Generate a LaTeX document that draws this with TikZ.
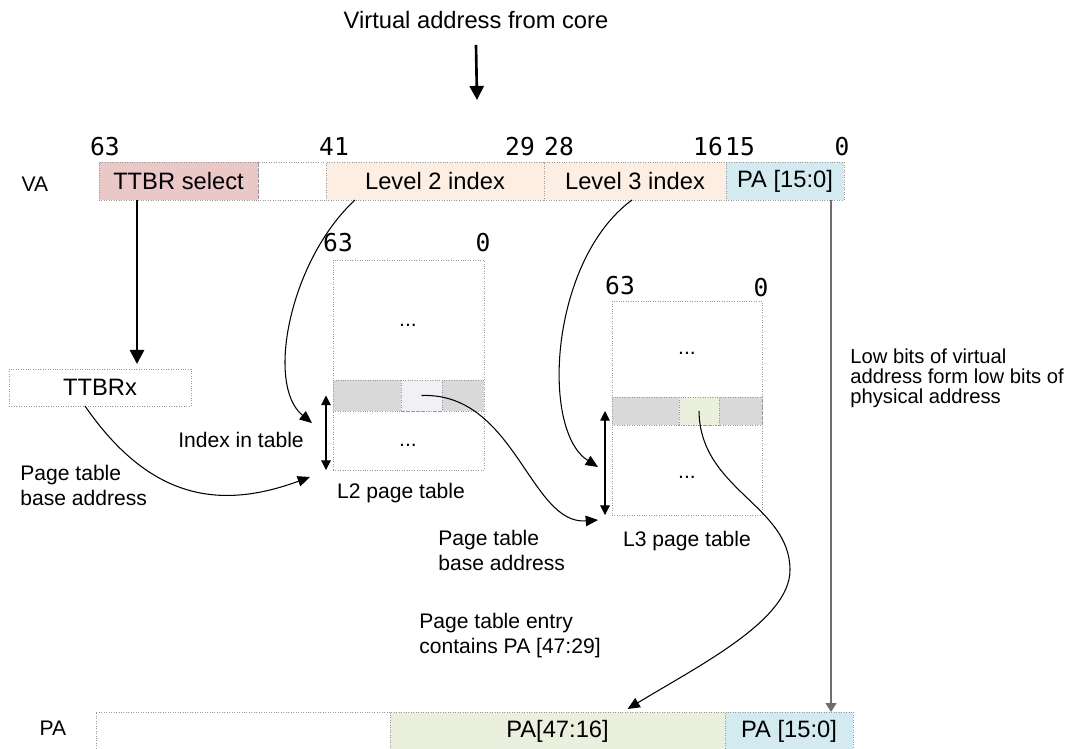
\documentclass[tikz,border=0pt]{standalone}
\usepackage{fontspec}
\setmainfont{Liberation Sans}
\newfontfamily\bitfont{DejaVu Sans Mono}
\usetikzlibrary{positioning, arrows.meta}

\definecolor{ttbrred}{RGB}{235,200,200}
\definecolor{idxpeach}{RGB}{252,238,227}
\definecolor{pablue}{RGB}{210,234,240}
\definecolor{pagreen}{RGB}{235,240,222}
\definecolor{rowgrey}{RGB}{217,217,217}
\definecolor{entgrey}{RGB}{240,240,245}
\definecolor{linegrey}{RGB}{110,110,110}

\begin{document}
\begin{tikzpicture}[
    x=0.2mm, y=-0.2mm,
    % Styles
    field/.style={draw=gray!80, densely dotted, inner sep=0pt, outer sep=0pt, minimum height=7.6mm, font=\fontsize{13.5}{16}\selectfont},
    tablebox/.style={draw=gray!80, densely dotted, inner sep=0pt, outer sep=0pt},
    rowbox/.style={draw=gray!80, densely dotted, fill=rowgrey, inner sep=0pt, outer sep=0pt},
    bitno/.style={font=\bitfont\fontsize{14}{16}\selectfont},
    dots/.style={font=\fontsize{12}{14}\selectfont},
    note/.style={font=\fontsize{12}{14.2}\selectfont, align=left, inner sep=0pt},
    thickarrow/.style={-{Triangle[length=8pt,width=8pt]}, line width=1.5pt},
    curvearrow/.style={-{Triangle[length=7pt,width=6pt]}, line width=0.6pt},
    idxarrow/.style={{Triangle[length=5.5pt,width=5.5pt]}-{Triangle[length=5.5pt,width=5.5pt]}, line width=0.6pt},
    lowarrow/.style={-{Triangle[length=5pt,width=6pt]}, line width=1.1pt, linegrey},
]
\useasboundingbox (0,0) rectangle (1082,748);
\clip (0,0) rectangle (1082,748);

% Title
\node[font=\fontsize{13.5}{16}\selectfont] (title) at (476,20) {Virtual address from core};
\coordinate (coretip) at (477,100);
\draw[thickarrow] ([yshift=-2mm]title.south) -- (coretip);

% VA register
\node[font=\fontsize{12}{14}\selectfont] (valabel) at (35,184) {VA};
\node[field, fill=ttbrred, minimum width=31.8mm, anchor=north west] (ttbrsel) at (99,162) {TTBR select};
\node[field, minimum width=13.6mm, right=0pt of ttbrsel] (vagap) {};
\node[field, fill=idxpeach, minimum width=43.6mm, right=0pt of vagap] (l2idx) {Level 2 index};
\node[field, fill=idxpeach, minimum width=36.4mm, right=0pt of l2idx] (l3idx) {Level 3 index};
\node[field, fill=pablue, minimum width=23.6mm, right=0pt of l3idx] (vapa) {PA [15:0]};

% Bit numbers
\node[bitno] (bit63) at (105,147) {63};
\node[bitno] (bit41) at (334,147) {41};
\node[bitno] (bit29) at (520,147) {29};
\node[bitno] (bit28) at (559,147) {28};
\node[bitno] (bit16) at (708,147) {16};
\node[bitno] (bit15) at (740,147) {15};
\node[bitno] (bit0) at (842,147) {0};

% TTBRx
\node[field, minimum width=36.4mm, minimum height=7.4mm] (ttbrx) at (100,387.5) {TTBRx};
\draw[thickarrow, shorten >=1mm] ([xshift=-8.3mm]ttbrsel.south) -- ([xshift=-8.3mm]ttbrsel.south |- ttbrx.north);
\node[note, anchor=west] (ttbrnote) at (20,485) {Page table\\base address};

% L2 page table
\node[tablebox, minimum width=30.2mm, minimum height=42mm, anchor=north west] (l2tab) at (333,260) {};
\node[rowbox, minimum width=30.2mm, minimum height=6.2mm, anchor=north west] (l2row) at (333,380) {};
\node[rowbox, fill=entgrey, minimum width=8.2mm, minimum height=6.2mm] (l2ent) at (421.5,395.5) {};
\node[dots] (l2top) at (408,325) {...};
\node[dots] (l2bot) at (408,445) {...};
\node[bitno] (l2hi) at (338,243) {63};
\node[bitno] (l2lo) at (483,243) {0};
\node[note] (l2cap) at (401,493) {L2 page table};
\node[note] (l2note) at (241,440) {Index in table};
\draw[idxarrow] ([xshift=-1.4mm]l2row.west) -- ([xshift=-1.4mm]l2tab.south west);

% L3 page table
\node[tablebox, minimum width=30mm, minimum height=42.8mm, anchor=north west] (l3tab) at (612,301) {};
\node[rowbox, minimum width=30mm, minimum height=5.6mm, anchor=north west] (l3row) at (612,397) {};
\node[rowbox, fill=pagreen, minimum width=8mm, minimum height=5.6mm] (l3ent) at (699,411) {};
\node[dots] (l3top) at (687,353) {...};
\node[dots] (l3bot) at (687,477) {...};
\node[bitno] (l3hi) at (620,286) {63};
\node[bitno] (l3lo) at (761,288) {0};
\node[note] (l3cap) at (687,541) {L3 page table};
\node[note, anchor=west] (l2basenote) at (438,550) {Page table\\base address};
\draw[idxarrow] ([xshift=-1.4mm]l3row.west) -- ([xshift=-1.4mm]l3tab.south west);

% PA register
\node[font=\fontsize{12}{14}\selectfont] (palabel) at (53,728) {PA};
\node[field, minimum width=58.8mm, anchor=north west] (pablank) at (96,712) {};
\node[field, fill=pagreen, minimum width=67mm, right=0pt of pablank] (pa47) {PA[47:16]};
\node[field, fill=pablue, minimum width=25.6mm, right=0pt of pa47] (pa15) {PA [15:0]};
\node[note, anchor=west] (entrynote) at (419,636) {Page table entry\\contains PA [47:29]};

% Table walk curves
\draw[curvearrow] ([xshift=-3mm]ttbrx.south) .. controls (150,500) and (220,510) .. ([xshift=-4.6mm,yshift=-1.4mm]l2tab.south west);
\draw[curvearrow] ([xshift=-16mm]l2idx.south) .. controls (290,260) and (265,385) .. ([xshift=-4.2mm,yshift=-2.4mm]l2row.south west);
\draw[curvearrow] ([xshift=-0.6mm]l3idx.south) .. controls (550,260) and (540,430) .. ([xshift=-2.8mm,yshift=-8.4mm]l3row.south west);
\draw[curvearrow] (l2ent.center) .. controls (515,392) and (530,525) .. ([xshift=-2.8mm,yshift=-1mm]l3tab.south west);
\draw[curvearrow] (l3ent.center) .. controls (700,490) and (790,505) .. (790,570) .. controls (790,620) and (700,665) .. ([xshift=14mm,yshift=0.6mm]pa47.north);

% Low bits pass straight through
\draw[lowarrow] ([xshift=9.2mm]vapa.south) -- ([xshift=9.2mm]vapa.south |- pa15.north);
\node[note, anchor=west, font=\fontsize{11.5}{11.4}\selectfont] (lownote) at (850,378) {Low bits of virtual\\address form low bits of\\physical address};

\end{tikzpicture}
\end{document}
